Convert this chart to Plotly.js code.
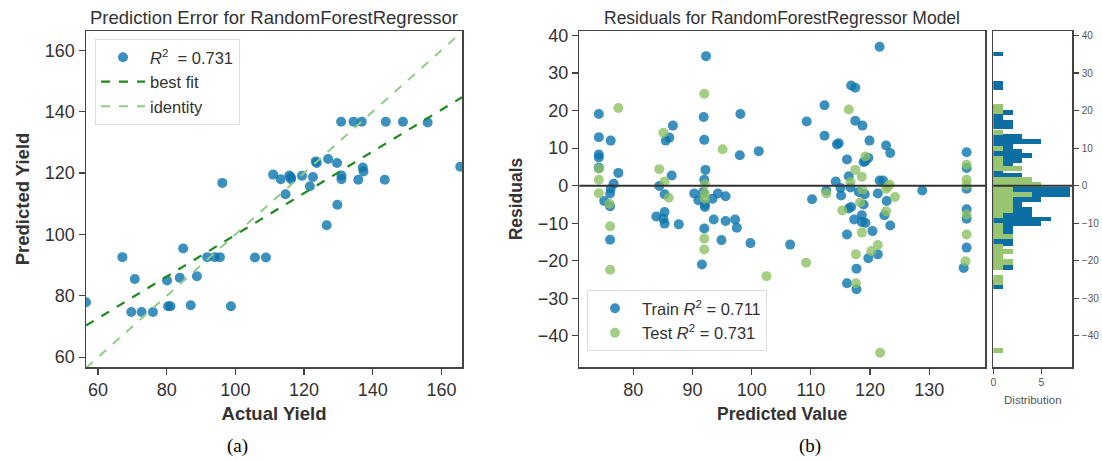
<!DOCTYPE html>
<html>
<head>
<meta charset="utf-8">
<script src="https://cdn.plot.ly/plotly-3.0.1.min.js"></script>
<style>html,body{margin:0;padding:0;background:#fff;}#chart{width:1102px;height:460px;}</style>
</head>
<body>
<div id="chart"></div>
<script>
// ---------- (a) Prediction error data ----------
const actualYield = [56.5,67.1,70.7,69.7,72.7,76.0,80.1,80.4,81.1,83.8,84.8,88.8,87.0,91.8,94.0,95.5,98.7,96.2,105.7,108.9,126.6,129.7,130.8,134.4,136.8,143.8,148.8,156.0,123.4,123.7,127.0,129.6,111.0,113.2,115.7,116.2,116.2,119.4,122.6,130.9,130.9,121.7,114.6,137.1,137.3,135.8,143.5,165.5];
const predictedYield = [77.9,92.6,85.5,74.7,74.7,74.7,85.0,76.6,76.6,85.9,95.4,86.4,76.9,92.6,92.6,92.6,76.6,116.8,92.5,92.5,103.0,109.7,136.7,136.7,136.7,136.7,136.7,136.5,123.8,123.3,124.6,123.3,119.5,118.0,119.2,118.0,118.6,119.1,118.7,119.2,118.0,115.7,113.1,121.8,120.5,117.8,117.8,122.1];
const bestFitX = [56.5, 166.0];
const bestFitY = [70.3, 144.7];
const identityXY = [56.5, 166.0];
const xTicksA = [60, 80, 100, 120, 140, 160];
const yTicksA = [60, 80, 100, 120, 140, 160];

// ---------- (b) Residuals data ----------
const trainPred = [74.2,74.2,74.2,74.2,74.2,76.2,77.5,76.7,76.2,76.1,75.1,76.1,76.1,
  85.5,86.1,86.7,86.5,84.4,85.3,83.9,85.3,85.1,85.3,87.7,
  92.3,91.9,92.0,92.2,92.0,90.3,91.8,91.0,92.1,92.1,93.4,94.3,95.6,93.6,95.6,97.2,97.5,92.0,94.9,91.6,98.1,98.0,101.2,99.8,
  106.5,109.3,112.3,112.3,110.2,112.6,
  121.6,116.8,117.5,117.5,118.7,119.9,114.4,114.7,122.7,123.4,116.1,119.7,118.9,119.2,116.4,114.2,121.6,122.2,115.0,116.7,118.1,115.1,119.1,121.3,128.8,122.8,118.9,116.8,116.4,122.4,118.6,117.3,118.6,119.2,123.4,120.4,116.1,121.3,119.7,117.7,116.1,117.7,
  136.3,136.3,136.3,136.3,136.3,136.3,135.8];
const trainResid = [19.1,12.9,8.3,7.5,4.8,12.0,3.4,0.5,-0.8,-2.1,-4.1,-5.5,-14.4,
  12.0,12.8,16.0,2.7,-0.1,-2.3,-8.2,-7.0,-8.8,-10.1,-10.3,
  34.5,18.3,12.2,4.2,1.6,-2.1,-1.7,-3.9,-5.7,-5.0,-3.5,-2.1,-2.8,-9.0,-9.4,-9.0,-11.2,-11.4,-14.5,-21.0,19.1,8.1,9.2,-15.3,
  -15.7,17.1,21.4,13.3,-3.6,-1.3,
  37.0,26.7,26.1,17.3,16.0,12.0,11.0,11.3,10.7,8.7,7.0,7.4,6.3,6.5,2.5,1.1,1.4,1.4,-0.6,-0.5,-1.7,-2.6,-2.3,-2.1,-1.3,-4.1,-5.0,-5.7,-6.1,-7.9,-7.9,-9.0,-9.7,-9.9,-10.6,-12.1,-13.0,-18.3,-19.3,-22.1,-26.0,-27.6,
  8.9,4.7,-0.8,-6.3,-8.8,-16.5,-21.9];
const testPred = [74.2,74.2,74.2,77.5,76.0,76.1,76.1,
  85.1,84.4,85.3,86.0,
  92.0,92.1,92.1,92.1,92.0,92.0,95.1,
  102.5,109.2,112.6,
  116.4,119.2,117.5,118.6,116.7,123.3,118.7,122.7,123.0,124.2,118.3,115.3,122.7,118.6,121.3,120.2,117.6,117.6,121.7,
  136.3,136.3,136.3,136.3,136.3,136.1];
const testResid = [4.5,1.6,-2.0,20.7,-4.8,-10.8,-22.4,
  14.1,4.4,1.1,-3.2,
  24.5,0.4,-2.1,-3.5,-14.1,-17.0,9.7,
  -24.1,-20.5,-2.1,
  20.3,7.8,4.2,2.4,1.0,0.3,-1.1,-0.8,-0.2,-3.0,-4.5,-6.6,-6.8,-12.5,-15.8,-17.4,-18.3,-26.0,-44.5,
  5.6,1.6,0.1,-7.7,-13.0,-20.1];
const xTicksB = [80, 90, 100, 110, 120, 130];
const yTicksB = [-40, -30, -20, -10, 0, 10, 20, 30, 40];
const distTicks = [0, 5];
const trainR2 = 0.711;
const testR2 = 0.731;
const numBins = 50;

// ---------- styling ----------
const W = 1102, H = 460;
const FONT = 'Liberation Sans, Arial, sans-serif';
const blue = '#0b74ad';
const blueHist = '#0d6ea3';
const green = '#8cc063';
const greenHist = '#97c572';
const spine = '#444';
const px = v => v / W;
const py = v => 1 - v / H;

function binsFor(arr) {
  const mn = Math.min(...arr), mx = Math.max(...arr);
  return {start: mn, end: mx + 1e-9, size: (mx - mn) / numBins};
}

const traces = [
  {type: 'scatter', mode: 'markers', x: actualYield, y: predictedYield, xaxis: 'x', yaxis: 'y',
   name: '<i>R</i><sup>2</sup>  = 0.731', legend: 'legend',
   marker: {color: blue, size: 10, opacity: 0.8, line: {width: 0}}},
  {type: 'scatter', mode: 'lines', x: bestFitX, y: bestFitY, xaxis: 'x', yaxis: 'y',
   name: 'best fit', legend: 'legend', line: {color: '#1c8a1c', width: 2.2, dash: 'dash'}},
  {type: 'scatter', mode: 'lines', x: identityXY, y: identityXY, xaxis: 'x', yaxis: 'y',
   name: 'identity', legend: 'legend', line: {color: '#8fcc8a', width: 2, dash: 'dash'}},
  {type: 'scatter', mode: 'markers', x: trainPred, y: trainResid, xaxis: 'x2', yaxis: 'y2',
   name: 'Train <i>R</i><sup>2</sup> = ' + trainR2, legend: 'legend2',
   marker: {color: blue, size: 10, opacity: 0.8, line: {width: 0}}},
  {type: 'scatter', mode: 'markers', x: testPred, y: testResid, xaxis: 'x2', yaxis: 'y2',
   name: 'Test <i>R</i><sup>2</sup> = ' + testR2, legend: 'legend2',
   marker: {color: green, size: 10, opacity: 0.78, line: {width: 0}}},
  {type: 'histogram', y: trainResid, orientation: 'h', xaxis: 'x3', yaxis: 'y3', showlegend: false,
   ybins: binsFor(trainResid), marker: {color: blueHist, line: {width: 0}}},
  {type: 'histogram', y: testResid, orientation: 'h', xaxis: 'x3', yaxis: 'y3', showlegend: false,
   ybins: binsFor(testResid), marker: {color: greenHist, line: {width: 0}}}
];

const axisBase = {
  showline: true, mirror: true, linecolor: spine, linewidth: 1.5,
  ticks: 'outside', ticklen: 6, tickwidth: 1.2, tickcolor: spine,
  showgrid: false, zeroline: false, automargin: false,
  tickfont: {family: FONT, size: 18, color: '#333'}
};
const yDom = [py(367), py(31)];

const layout = {
  width: W, height: H,
  margin: {l: 0, r: 0, t: 0, b: 0},
  paper_bgcolor: '#fff', plot_bgcolor: '#fff',
  font: {family: FONT, color: '#333'},
  barmode: 'overlay', bargap: 0,
  title: {text: 'Prediction Error for RandomForestRegressor', x: px(274), xanchor: 'center',
          y: py(18), yanchor: 'middle', xref: 'paper', yref: 'paper',
          font: {family: FONT, size: 18.5, color: '#333'}},
  xaxis: Object.assign({}, axisBase, {domain: [px(86), px(462)], anchor: 'y', range: [56.5, 166],
          tickvals: xTicksA,
          title: {text: '<b>Actual Yield</b>', font: {family: FONT, size: 18.5, color: '#333'}, standoff: 8}}),
  yaxis: Object.assign({}, axisBase, {domain: yDom, anchor: 'x', range: [56.8, 166.3],
          tickvals: yTicksA,
          title: {text: '<b>Predicted Yield</b>', font: {family: FONT, size: 18.5, color: '#333'}, standoff: 10}}),
  xaxis2: Object.assign({}, axisBase, {domain: [px(579.3), px(985)], anchor: 'y2', range: [70.9, 139.4],
          tickvals: xTicksB,
          title: {text: '<b>Predicted Value</b>', font: {family: FONT, size: 17.5, color: '#333'}, standoff: 8}}),
  yaxis2: Object.assign({}, axisBase, {domain: yDom, anchor: 'x2', range: [-48.3, 41.2],
          tickvals: yTicksB,
          title: {text: '<b>Residuals</b>', font: {family: FONT, size: 17.5, color: '#333'}, standoff: 10}}),
  xaxis3: Object.assign({}, axisBase, {domain: [px(993.3), px(1072.3)], anchor: 'y3', range: [0, 8.2],
          tickvals: distTicks, ticklen: 5, tickfont: {family: FONT, size: 10.5, color: '#555'},
          title: {text: 'Distribution', font: {family: FONT, size: 11.5, color: '#555'}, standoff: 9}}),
  yaxis3: Object.assign({}, axisBase, {domain: yDom, anchor: 'x3', side: 'right', range: [-48.3, 41.2],
          tickvals: yTicksB, ticklen: 5, ticklabelstandoff: 1, tickfont: {family: FONT, size: 10, color: '#555'}}),
  shapes: [
    {type: 'line', xref: 'x2 domain', yref: 'y2', x0: 0, x1: 1, y0: 0, y1: 0,
     line: {color: '#333', width: 2}},
    {type: 'line', xref: 'x3 domain', yref: 'y3', x0: 0, x1: 1, y0: 0, y1: 0,
     line: {color: '#333', width: 2}}
  ],
  legend: {x: px(95), y: py(39), xanchor: 'left', yanchor: 'top', xref: 'paper', yref: 'paper',
           bgcolor: '#fff', bordercolor: '#ddd', borderwidth: 1, itemwidth: 44,
           font: {family: FONT, size: 16.5, color: '#333'}, tracegroupgap: 0},
  legend2: {x: px(587), y: py(351), xanchor: 'left', yanchor: 'bottom', xref: 'paper', yref: 'paper',
            bgcolor: '#fff', bordercolor: '#ddd', borderwidth: 1, itemwidth: 44,
            font: {family: FONT, size: 16.5, color: '#333'}},
  annotations: [
    {text: 'Residuals for RandomForestRegressor Model', xref: 'paper', yref: 'paper',
     x: px(782), y: py(18), xanchor: 'center', yanchor: 'middle', showarrow: false,
     font: {family: FONT, size: 17.5, color: '#333'}},
    {text: '(a)', xref: 'paper', yref: 'paper', x: px(237), y: py(446), xanchor: 'center', yanchor: 'middle',
     showarrow: false, font: {family: 'Liberation Serif, Times New Roman, serif', size: 19, color: '#000'}},
    {text: '(b)', xref: 'paper', yref: 'paper', x: px(810), y: py(446), xanchor: 'center', yanchor: 'middle',
     showarrow: false, font: {family: 'Liberation Serif, Times New Roman, serif', size: 19, color: '#000'}}
  ]
};

Plotly.newPlot('chart', traces, layout, {staticPlot: true, displayModeBar: false});
</script>
</body>
</html>
